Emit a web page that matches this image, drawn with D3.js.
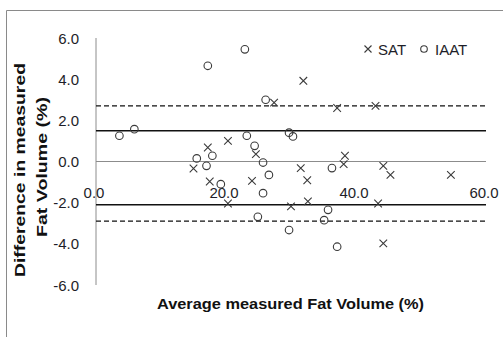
<!DOCTYPE html>
<html><head><meta charset="utf-8">
<script src="https://cdn.jsdelivr.net/npm/d3@7"></script>
<style>html,body{margin:0;padding:0;background:#fff;}svg{display:block;}</style>
</head><body>
<svg id="c" width="503" height="337"></svg>
<script>
// Data
const iaatX = [3.6, 5.9, 17.2, 22.9, 15.5, 17.0, 17.9, 19.2, 23.2, 24.4, 25.7, 26.6, 25.7, 24.9, 26.1, 29.7, 30.3, 29.7, 36.3, 35.7, 35.1, 37.1];
const iaatY = [1.25, 1.57, 4.65, 5.45, 0.15, -0.21, 0.28, -1.1, 1.25, 0.76, -0.05, -0.65, -1.54, -2.69, 3.0, 1.4, 1.22, -3.33, -0.32, -2.35, -2.85, -4.14];
const satX = [15.0, 17.2, 17.5, 20.3, 20.3, 24.0, 24.6, 27.4, 31.9, 31.5, 32.5, 30.0, 32.6, 37.1, 38.3, 38.1, 43.0, 44.2, 45.3, 43.4, 44.2, 54.6];
const satY = [-0.34, 0.68, -0.97, 1.0, -2.04, -0.94, 0.36, 2.86, 3.92, -0.32, -0.91, -2.18, -1.94, 2.6, 0.28, -0.13, 2.7, -0.21, -0.65, -2.04, -3.98, -0.65];
const meanLines = [1.5, -2.1];
const limitLines = [2.7, -2.9];
const xTicks = [0, 20, 40, 60];
const yTicks = [6, 4, 2, 0, -2, -4, -6];
const seriesNames = ["SAT", "IAAT"];

const svg = d3.select("#c");
const x = d3.scaleLinear().domain([0, 60]).range([96, 486]);
const y = d3.scaleLinear().domain([-6, 6]).range([285, 38]);
const font = "'Liberation Sans', Arial, sans-serif";
const ink = "#3a3a3a";

// outer frame
svg.append("path").attr("d", "M6.5,337 L6.5,10.5 L503,10.5").attr("fill", "none").attr("stroke", "#8a8a8a").attr("stroke-width", 1);

// y axis line
svg.append("line").attr("x1", x(0)).attr("x2", x(0)).attr("y1", y(6)).attr("y2", y(-6)).attr("stroke", "#8c8c8c").attr("stroke-width", 1);
// x axis (zero line)
svg.append("line").attr("x1", x(0)).attr("x2", x(60)).attr("y1", y(0)).attr("y2", y(0)).attr("stroke", "#8c8c8c").attr("stroke-width", 1);

// y tick labels
svg.append("g").selectAll("text").data(yTicks).join("text")
  .attr("x", 79).attr("y", d => y(d) + 5.5).attr("text-anchor", "end")
  .attr("font-family", font).attr("font-size", 15).attr("fill", "#1e1e28")
  .text(d => d.toFixed(1));
// x tick labels
svg.append("g").selectAll("text").data(xTicks).join("text")
  .attr("x", d => x(d) - (d === 0 ? 2 : 2)).attr("y", 198).attr("text-anchor", "middle")
  .attr("font-family", font).attr("font-size", 15).attr("fill", "#1e1e28")
  .text(d => d.toFixed(1));

// mean and limit lines
svg.append("g").selectAll("line").data(meanLines).join("line")
  .attr("x1", x(0)).attr("x2", x(60)).attr("y1", d => y(d)).attr("y2", d => y(d))
  .attr("stroke", "#111").attr("stroke-width", 1.5);
svg.append("g").selectAll("line").data(limitLines).join("line")
  .attr("x1", x(0)).attr("x2", x(60)).attr("y1", d => y(d)).attr("y2", d => y(d))
  .attr("stroke", "#111").attr("stroke-width", 1.3).attr("stroke-dasharray", "5,3");

// markers
const crossPath = (cx, cy, s) => `M${cx - s},${cy - s}L${cx + s},${cy + s}M${cx - s},${cy + s}L${cx + s},${cy - s}`;
svg.append("g").selectAll("path").data(d3.range(satX.length)).join("path")
  .attr("d", i => crossPath(x(satX[i]), y(satY[i]), 3.8))
  .attr("stroke", ink).attr("stroke-width", 1.1).attr("fill", "none");
svg.append("g").selectAll("circle").data(d3.range(iaatX.length)).join("circle")
  .attr("cx", i => x(iaatX[i])).attr("cy", i => y(iaatY[i])).attr("r", 3.8)
  .attr("stroke", ink).attr("stroke-width", 1.1).attr("fill", "none");

// legend
const lg = svg.append("g");
lg.append("path").attr("d", crossPath(368, 49, 3.5)).attr("stroke", ink).attr("stroke-width", 1.1).attr("fill", "none");
lg.append("text").attr("x", 378).attr("y", 55).attr("font-family", font).attr("font-size", 15).attr("fill", "#1e1e28").text(seriesNames[0]);
lg.append("circle").attr("cx", 424).attr("cy", 49).attr("r", 3.3).attr("stroke", ink).attr("stroke-width", 1.1).attr("fill", "none");
lg.append("text").attr("x", 435).attr("y", 55).attr("font-family", font).attr("font-size", 15).attr("fill", "#1e1e28").text(seriesNames[1]);

// axis titles
svg.append("text").attr("x", 157).attr("y", 309).attr("font-family", font).attr("font-weight", "bold")
  .attr("font-size", 15).attr("fill", "#111").attr("textLength", 267).attr("lengthAdjust", "spacingAndGlyphs")
  .text("Average measured Fat Volume (%)");
svg.append("text").attr("transform", "translate(25,277) rotate(-90)").attr("font-family", font).attr("font-weight", "bold")
  .attr("font-size", 15).attr("fill", "#111").attr("textLength", 214).attr("lengthAdjust", "spacingAndGlyphs")
  .text("Difference in measured");
svg.append("text").attr("transform", "translate(47,237) rotate(-90)").attr("font-family", font).attr("font-weight", "bold")
  .attr("font-size", 15).attr("fill", "#111").attr("textLength", 140).attr("lengthAdjust", "spacingAndGlyphs")
  .text("Fat Volume (%)");
</script>
</body></html>
